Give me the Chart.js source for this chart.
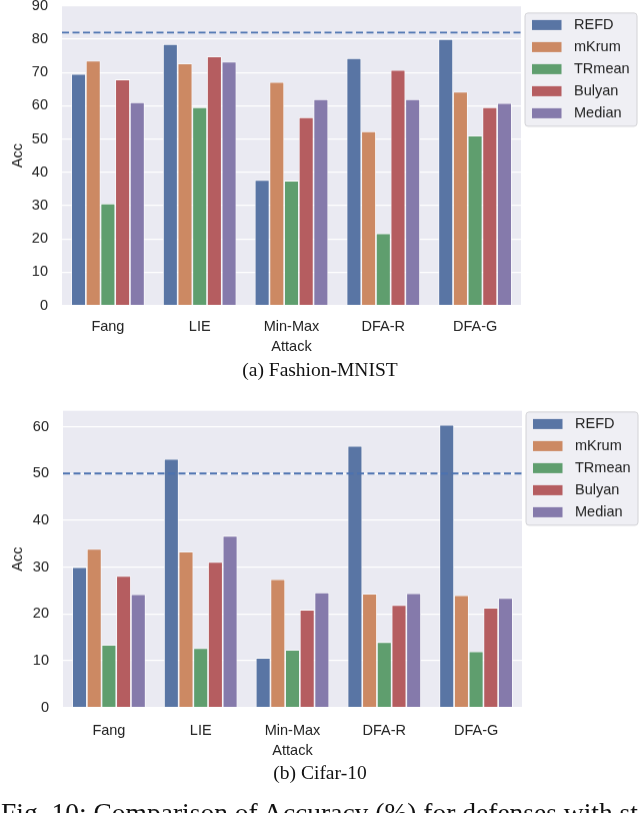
<!DOCTYPE html>
<html>
<head>
<meta charset="utf-8">
<script src="https://cdn.jsdelivr.net/npm/chart.js@4.4.1/dist/chart.umd.min.js"></script>
<style>
  html, body { margin: 0; padding: 0; background: #fff; }
  body { width: 640px; height: 813px; position: relative; overflow: hidden; }
  .wrap { position: absolute; left: 0; width: 640px; height: 358px; }
  .cap { position: absolute; left: 0; width: 640px; text-align: center;
         font-family: "Liberation Serif", "Times New Roman", serif; font-size: 19.5px;
         line-height: 1; color: #111; }
  #fig { position: absolute; left: 1px; top: 799px; font-family: "Liberation Serif", serif;
         font-size: 27.5px; line-height: 1; white-space: nowrap; color: #111; }
</style>
</head>
<body>
<div class="wrap" id="wrapA"><canvas id="fmnist"></canvas></div>
<div class="cap" style="top:360px">(a) Fashion-MNIST</div>
<div class="wrap" id="wrapB"><canvas id="cifar"></canvas></div>
<div class="cap" style="top:763px">(b) Cifar-10</div>
<div id="fig">Fig. 10: Comparison of Accuracy (%) for defenses with state-of-the-art attacks</div>

<script>
// categories and series
const attacks = ['Fang', 'LIE', ['Min-Max', 'Attack'], 'DFA-R', 'DFA-G'];
const defenses = ['REFD', 'mKrum', 'TRmean', 'Bulyan', 'Median'];

// (a) Fashion-MNIST
const fmnistRefd   = [69.5, 78.5, 37.7, 74.3, 80.0];
const fmnistMkrum  = [73.5, 72.7, 67.1, 52.3, 64.2];
const fmnistTrmean = [30.6, 59.5, 37.5, 21.7, 51.0];
const fmnistBulyan = [67.9, 74.8, 56.5, 70.7, 59.5];
const fmnistMedian = [61.0, 73.2, 61.9, 61.9, 60.8];
const fmnistNoAttack = 82;
const fmnistYMax = 90;

// (b) Cifar-10
const cifarRefd   = [30.0, 53.1, 10.6, 55.9, 60.4];
const cifarMkrum  = [33.9, 33.3, 27.4, 24.3, 24.0];
const cifarTrmean = [13.4, 12.7, 12.3, 14.0, 12.0];
const cifarBulyan = [28.1, 31.1, 20.9, 21.9, 21.3];
const cifarMedian = [24.2, 36.7, 24.6, 24.4, 23.4];
const cifarNoAttack = 50;
const cifarYMax = 63.4;

const colors = ['#5975A4', '#CC8963', '#5F9E6E', '#B55D60', '#857AAB'];
const textColor = '#222222';
const sans = '"Liberation Sans", Arial, sans-serif';

// grey plot background like seaborn darkgrid
const plotBackground = {
  id: 'plotBackground',
  beforeDraw(chart) {
    const { ctx, chartArea: a } = chart;
    ctx.save();
    ctx.fillStyle = '#EAEAF2';
    ctx.fillRect(a.left, a.top, a.right - a.left, a.bottom - a.top);
    ctx.restore();
  }
};

// dashed horizontal reference line
const refLine = {
  id: 'refLine',
  afterDatasetsDraw(chart, args, opts) {
    const { ctx, chartArea: a } = chart;
    const y = chart.scales.y.getPixelForValue(opts.value);
    ctx.save();
    ctx.strokeStyle = '#4C72B0';
    ctx.lineWidth = 1.8;
    ctx.setLineDash([7, 3.5]);
    ctx.beginPath();
    ctx.moveTo(a.left, y);
    ctx.lineTo(a.right, y);
    ctx.stroke();
    ctx.restore();
  }
};

// framed legend outside the axes, top right
const boxLegend = {
  id: 'boxLegend',
  afterDraw(chart, args, opts) {
    const { ctx, chartArea: a } = chart;
    const x = a.right + opts.dx, y = a.top + opts.dy;
    ctx.save();
    ctx.beginPath();
    ctx.roundRect(x + 0.5, y + 0.5, 112, 113, 3);
    ctx.fillStyle = '#EFEFF4';
    ctx.fill();
    ctx.strokeStyle = '#D2D2D6';
    ctx.lineWidth = 1;
    ctx.stroke();
    ctx.font = '14.5px ' + sans;
    ctx.textBaseline = 'middle';
    chart.data.datasets.forEach((ds, i) => {
      const cy = y + 12.5 + i * 22;
      ctx.fillStyle = ds.backgroundColor;
      ctx.fillRect(x + 7.5, cy - 5, 29.5, 10);
      ctx.fillStyle = textColor;
      ctx.fillText(ds.label, x + 49.5, cy);
    });
    ctx.restore();
  }
};

function makeChart(id, series, yMax, refValue, axisWidth, rightPad, legendDy, labelPad) {
  return new Chart(document.getElementById(id), {
    type: 'bar',
    data: {
      labels: attacks,
      datasets: series.map((values, i) => ({
        label: defenses[i],
        data: values,
        backgroundColor: colors[i],
        borderColor: '#FFFFFF',
        borderWidth: 0.8,
        categoryPercentage: 0.8,
        barPercentage: 1.0
      }))
    },
    options: {
      responsive: true,
      maintainAspectRatio: false,
      animation: false,
      layout: { padding: { top: 0, right: rightPad, bottom: 0, left: 0 } },
      plugins: {
        legend: { display: false },
        tooltip: { enabled: false },
        refLine: { value: refValue },
        boxLegend: { dx: 3.5, dy: legendDy }
      },
      scales: {
        x: {
          grid: { display: false, drawTicks: false },
          border: { display: false },
          ticks: {
            color: textColor,
            font: { family: sans, size: 14.5, lineHeight: '20px' },
            padding: labelPad,
            maxRotation: 0,
            autoSkip: false
          }
        },
        y: {
          min: 0,
          max: yMax,
          afterFit(scale) { scale.width = axisWidth; },
          grid: { color: '#FFFFFF', lineWidth: 1.2, drawTicks: false },
          border: { display: false },
          ticks: {
            stepSize: 10,
            includeBounds: false,
            padding: 14,
            color: textColor,
            font: { family: sans, size: 14.5 }
          },
          title: {
            display: true,
            text: 'Acc',
            color: textColor,
            font: { family: sans, size: 14.5 },
            padding: { top: 9, bottom: 0 }
          }
        }
      }
    },
    plugins: [plotBackground, refLine, boxLegend]
  });
}

// size and shift the canvas so the axes land where they sit in the figure
function place(chart, wrap, top, bottom) {
  const a = chart.chartArea;
  const h = wrap.clientHeight + (bottom - top) - (a.bottom - a.top);
  wrap.style.height = h + 'px';
  chart.resize();
  wrap.style.top = (top - chart.chartArea.top) + 'px';
}

const chartA = makeChart('fmnist',
  [fmnistRefd, fmnistMkrum, fmnistTrmean, fmnistBulyan, fmnistMedian],
  fmnistYMax, fmnistNoAttack, 62, 119, 6.7, 11);
const chartB = makeChart('cifar',
  [cifarRefd, cifarMkrum, cifarTrmean, cifarBulyan, cifarMedian],
  cifarYMax, cifarNoAttack, 63, 118, 0.7, 13);

place(chartA, document.getElementById('wrapA'), 6, 305);
place(chartB, document.getElementById('wrapB'), 411, 707);
</script>
</body>
</html>
